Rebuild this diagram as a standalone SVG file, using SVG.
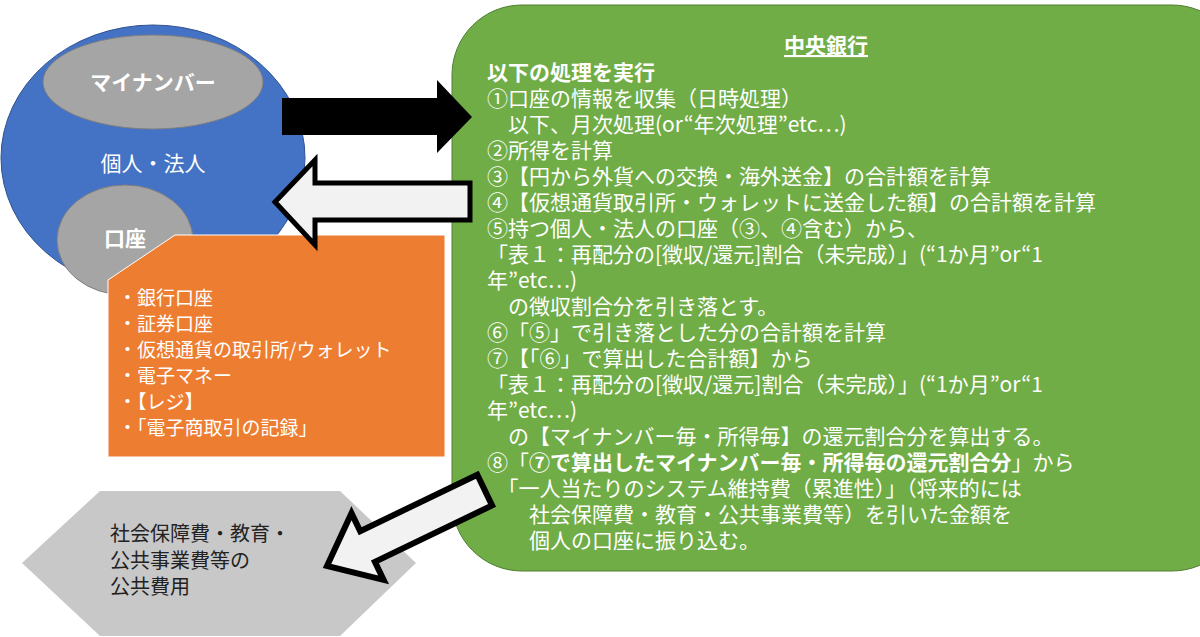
<svg xmlns="http://www.w3.org/2000/svg" width="1200" height="637" viewBox="0 0 1200 637">
<style>
.t{font-family:"Noto Sans CJK JP","Liberation Sans",sans-serif;font-size:21px;fill:#fff}
.b{font-weight:bold}
.w{font-family:"Noto Sans CJK JP","Liberation Sans",sans-serif;font-size:19px;fill:#fff}
.d{font-family:"Noto Sans CJK JP","Liberation Sans",sans-serif;font-size:20px;fill:#222}
</style>
<rect width="1200" height="637" fill="#fff"/>
<g id="person">
<ellipse cx="153" cy="158" rx="152" ry="133" fill="#4472c4" stroke="#2f528f" stroke-width="1"/>
<ellipse cx="153" cy="82" rx="110" ry="47" fill="#a5a5a5" stroke="#7f7f7f"/>
<text class="t b" x="153" y="90" text-anchor="middle">マイナンバー</text>
<text class="t" x="153" y="171" text-anchor="middle" font-size="20">個人・法人</text>
<ellipse cx="125" cy="240" rx="68" ry="55" fill="#a5a5a5" stroke="#7f7f7f"/>
<text class="t b" x="125" y="246" text-anchor="middle">口座</text>
</g>
<g id="accounts">
<polygon points="108,280 175,235 445,235 445,457 108,457" fill="#ed7d31" stroke="#fff" stroke-width="1"/>
<text class="w" x="118" y="305">・銀行口座</text>
<text class="w" x="118" y="331">・証券口座</text>
<text class="w" x="118" y="357">・仮想通貨の取引所/ウォレット</text>
<text class="w" x="118" y="383">・電子マネー</text>
<text class="w" x="118" y="409">・【レジ】</text>
<text class="w" x="118" y="435">・「電子商取引の記録」</text>
</g>
<g id="public">
<polygon points="22,563 100,491 340,491 416,563 340,636 100,636" fill="#c8c8c8"/>
<text class="d" x="110" y="541">社会保障費・教育・</text>
<text class="d" x="110" y="568">公共事業費等の</text>
<text class="d" x="110" y="594">公共費用</text>
</g>
<g id="bank">
<rect x="452" y="5" width="790" height="566" rx="70" fill="#70ad47" stroke="#507e32"/>
<text class="t b" x="826" y="53" text-anchor="middle" text-decoration="underline">中央銀行</text>
<g class="t">
<text x="487" y="80" class="b">以下の処理を実行</text>
<text x="487" y="106">①口座の情報を収集（日時処理）</text>
<text x="487" y="132">　以下、月次処理(or“年次処理”etc…)</text>
<text x="487" y="158">②所得を計算</text>
<text x="487" y="184">③【円から外貨への交換・海外送金】の合計額を計算</text>
<text x="487" y="210">④【仮想通貨取引所・ウォレットに送金した額】の合計額を計算</text>
<text x="487" y="236">⑤持つ個人・法人の口座（③、④含む）から、</text>
<text x="487" y="262">「表１：再配分の[徴収/還元]割合（未完成）」(“1か月”or“1</text>
<text x="487" y="288">年”etc…)</text>
<text x="487" y="314">　の徴収割合分を引き落とす。</text>
<text x="487" y="340">⑥「⑤」で引き落とした分の合計額を計算</text>
<text x="487" y="366">⑦【「⑥」で算出した合計額】から</text>
<text x="487" y="392"> 「表１：再配分の[徴収/還元]割合（未完成）」(“1か月”or“1</text>
<text x="487" y="418">年”etc…)</text>
<text x="487" y="444">　の【マイナンバー毎・所得毎】の還元割合分を算出する。</text>
<text x="487" y="470">⑧「<tspan class="b">⑦で算出したマイナンバー毎・所得毎の還元割合分</tspan>」から</text>
<text x="487" y="496">　「一人当たりのシステム維持費（累進性）」（将来的には</text>
<text x="487" y="522">　　社会保障費・教育・公共事業費等）を引いた金額を</text>
<text x="487" y="548">　　個人の口座に振り込む。</text>
</g>
</g>
<g id="connectors">
<polygon points="282,98 437,98 437,80 472,117 437,153 437,135 282,135" fill="#000"/>
<polygon points="275,202 315,160 315,183 470,183 470,220 315,220 315,245" fill="#f2f2f2" stroke="#000" stroke-width="5" stroke-linejoin="miter"/>
<g transform="translate(327,566) rotate(-25.7)">
<polygon points="0,0 45,-37 45,-17 175,-17 175,17 45,17 45,37" fill="#f2f2f2" stroke="#000" stroke-width="6"/>
</g>
</g>
</svg>
